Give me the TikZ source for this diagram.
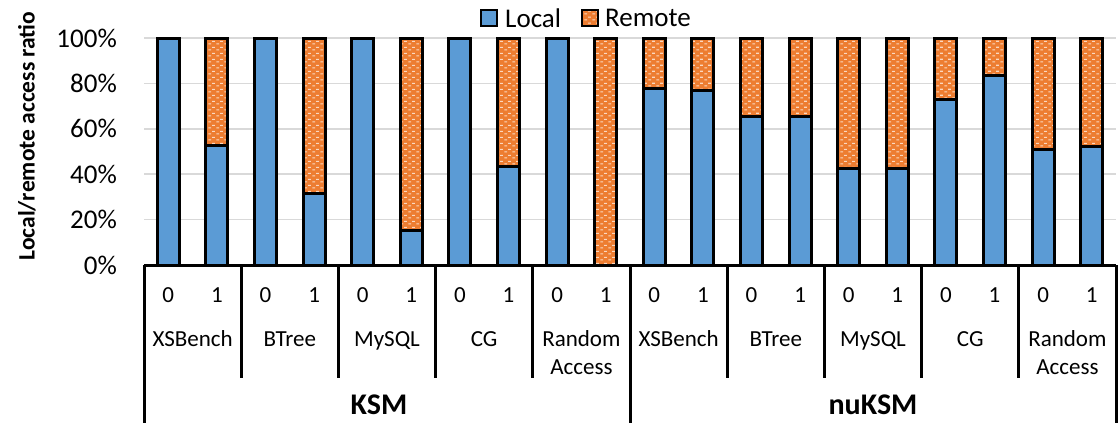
\documentclass[tikz,border=0pt]{standalone}
\usepackage{fontspec}
\setmainfont{Carlito}
\usetikzlibrary{patterns}
\definecolor{localblue}{HTML}{5B9BD5}
\definecolor{remoteorange}{HTML}{ED7D31}
\definecolor{gridgray}{HTML}{D9D9D9}
\pgfdeclarepatternformonly{remotebricks}{\pgfqpoint{0pt}{0pt}}{\pgfqpoint{8pt}{6pt}}{\pgfqpoint{8pt}{6pt}}{%
  \pgfpathrectangle{\pgfqpoint{0.5pt}{0.6pt}}{\pgfqpoint{3pt}{1.3pt}}%
  \pgfpathrectangle{\pgfqpoint{4.5pt}{3.6pt}}{\pgfqpoint{3pt}{1.3pt}}%
  \pgfusepath{fill}}
\begin{document}
\begin{tikzpicture}[x=1pt,y=-1pt]
    \tikzset{
      bar/.style={draw=black,line width=3pt},
      localbar/.style={bar,fill=localblue},
      remotebar/.style={bar,preaction={fill=remoteorange},pattern=remotebricks,pattern color=white!70!remoteorange},
      gridline/.style={gridgray,line width=1.5pt},
      axisline/.style={black,line width=3pt},
      tick/.style={anchor=east,inner sep=0pt,font=\fontsize{27}{30}\selectfont},
      cat/.style={inner sep=0pt,align=center,font=\fontsize{23}{28}\selectfont},
      group/.style={inner sep=0pt,font=\fontsize{30}{34}\selectfont\bfseries},
      legendtext/.style={anchor=west,inner sep=0pt,font=\fontsize{27}{30}\selectfont},
      ylabel/.style={rotate=90,inner sep=0pt,font=\fontsize{23.5}{26}\selectfont\bfseries}};
    \useasboundingbox (0,0) rectangle (1118,423);
    \foreach \p in {0,20,...,100} {
      \draw[gridline] (144,{265-2.27*\p}) -- (1116,{265-2.27*\p});
      \node[tick] (t\p) at (117,{265-2.27*\p}) {\p\%};
    }
    \node[ylabel] (ylab) at (27,136) {Local/remote access ratio};
    \foreach \i/\v in {0/100,1/52.5,2/100,3/31.6,4/100,5/15.4,6/100,7/43.6,8/100,9/0,
                       10/77.8,11/76.8,12/65.6,13/65.6,14/42.6,15/42.6,16/73.1,17/83.7,18/51,19/52} {
      \pgfmathsetmacro\xc{144+48.6*(\i+0.5)}
      \pgfmathsetmacro\yb{265-2.27*\v}
      \pgfmathtruncatemacro\run{mod(\i,2)}
      \draw[remotebar] ({\xc-11},38) rectangle ({\xc+11},\yb);
      \draw[localbar] ({\xc-11},\yb) rectangle ({\xc+11},265);
      \node[cat] (run\i) at (\xc,295) {\run};
    }
    \foreach \k/\name in {0/XSBench,1/BTree,2/MySQL,3/CG,5/XSBench,6/BTree,7/MySQL,8/CG} {
      \node[cat,anchor=base] (bench\k) at ({144+48.6*(2*\k+1)},346) {\name};
    }
    \foreach \k in {4,9} {
      \node[cat,anchor=north] (bench\k) at ({144+48.6*(2*\k+1)},330) {Random\\Access};
    }
    \node[group] (ksm) at (379,405) {KSM};
    \node[group] (nuksm) at (873,405) {nuKSM};
    \draw[axisline] (144,265) -- (1116,265);
    \foreach \k in {1,2,3,4,6,7,8,9}
      \draw[axisline] ({144+97.2*\k},265) -- ({144+97.2*\k},378);
    \foreach \k in {0,5,10}
      \draw[axisline] ({144+97.2*\k},265) -- ({144+97.2*\k},423);
    \draw[localbar,line width=2.5pt] (481,10) rectangle (497,26);
    \node[legendtext] (leglocal) at (505,18) {Local};
    \draw[remotebar,line width=2.5pt] (582,10) rectangle (598,26);
    \node[legendtext] (legremote) at (605,18) {Remote};
\end{tikzpicture}
\end{document}
